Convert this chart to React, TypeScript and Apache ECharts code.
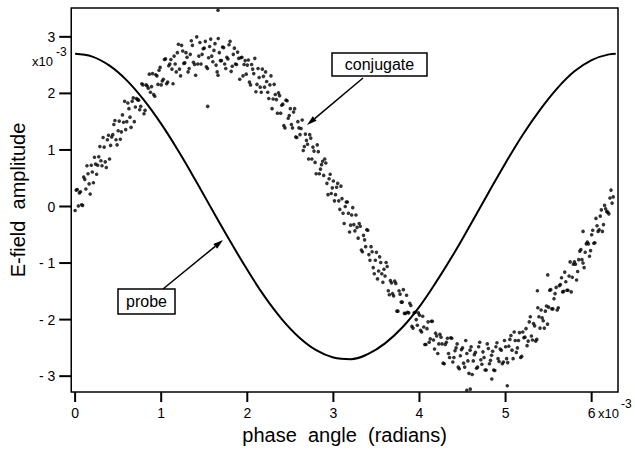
import React, { useEffect, useRef } from "react";
import * as echarts from "echarts";

const xTicks = [0, 1, 2, 3, 4, 5, 6];
const yTicks = [-3, -2, -1, 0, 1, 2, 3];
const X_MIN = -0.045;
const X_MAX = 6.306;
const Y_MIN = -3.28;
const Y_MAX = 3.51;

const probeX = [0, 0.2, 0.4, 0.6, 0.8, 1.0, 1.2, 1.4, 1.6, 1.8, 2.0, 2.2, 2.4, 2.6, 2.8, 3.0, 3.2, 3.4, 3.6, 3.8, 4.0, 4.2, 4.4, 4.6, 4.8, 5.0, 5.2, 5.4, 5.6, 5.8, 6.0, 6.2, 6.28];
const probeY = [2.7, 2.65, 2.49, 2.23, 1.88, 1.46, 0.98, 0.46, -0.08, -0.61, -1.12, -1.59, -1.99, -2.31, -2.54, -2.67, -2.7, -2.61, -2.42, -2.14, -1.77, -1.32, -0.83, -0.3, 0.24, 0.77, 1.27, 1.71, 2.09, 2.39, 2.59, 2.69, 2.7];

const conjugateA: [number, number][] = [
  [0,-0.07],[0.025,0.30],[0.05,0.24],[0.075,0.03],[0.1,0.52],[0.125,0.31],[0.15,0.58],[0.175,0.22],[0.2,0.61],[0.225,0.87],
  [0.25,0.57],[0.275,0.88],[0.3,0.81],[0.325,1.22],[0.35,0.79],[0.375,1.18],[0.4,0.84],[0.425,1.23],[0.45,1.45],[0.475,1.18],
  [0.5,1.34],[0.525,1.19],[0.55,1.62],[0.575,1.86],[0.6,1.50],[0.625,1.73],[0.65,1.40],[0.675,1.92],[0.7,1.76],[0.725,1.89],
  [0.75,1.71],[0.775,2.17],[0.8,1.64],[0.825,2.15],[0.85,2.09],[0.875,2.02],[0.9,2.35],[0.925,1.95],[0.95,2.31],[0.975,2.41],
  [1.0,2.15],[1.025,2.25],[1.05,2.61],[1.075,2.20],[1.1,2.52],[1.125,2.43],[1.15,2.66],[1.175,2.38],[1.2,2.87],[1.225,2.31],
  [1.25,2.75],[1.275,2.54],[1.3,2.64],[1.325,2.44],[1.35,2.93],[1.375,2.55],[1.4,2.32],[1.425,2.52],[1.45,2.90],[1.475,2.69],
  [1.5,2.80],[1.525,2.47],[1.55,2.63],[1.575,2.96],[1.6,2.56],[1.625,2.88],[1.65,2.38],[1.675,2.72],[1.7,2.58],[1.725,2.81],
  [1.75,2.44],[1.775,2.61],[1.8,2.92],[1.825,2.48],[1.85,2.80],[1.875,2.51],[1.9,2.62],[1.925,2.63],[1.95,2.31],[1.975,2.58],
  [2.0,2.50],[2.025,2.20],[2.05,2.51],[2.075,2.35],[2.1,2.03],[2.125,2.44],[2.15,2.11],[2.175,2.43],[2.2,2.11],[2.225,2.21],
  [2.25,1.91],[2.275,2.31],[2.3,1.90],[2.325,1.98],[2.35,1.65],[2.375,1.96],[2.4,1.79],[2.425,1.43],[2.45,1.88],[2.475,1.56],
  [2.5,1.73],[2.525,1.39],[2.55,1.73],[2.575,1.22],[2.6,1.39],[2.625,1.38],[2.65,0.99],[2.675,1.28],[2.7,1.10],[2.725,1.27],
  [2.75,0.84],[2.775,0.98],[2.8,0.58],[2.825,0.97],[2.85,0.66],[2.875,0.80],[2.9,0.84],[2.925,0.41],[2.95,0.49],[2.975,0.23],
  [3.0,0.45],[3.025,0.21],[3.05,0.41],[3.075,-0.05],[3.1,0.14],[3.125,-0.30],[3.15,0.08],[3.175,-0.12],[3.2,-0.33],[3.225,-0.02],
  [3.25,-0.43],[3.275,-0.37],[3.3,-0.30],[3.325,-0.77],[3.35,-0.51],[3.375,-0.71],[3.4,-0.42],[3.425,-0.95],[3.45,-0.80],[3.475,-1.19],
  [3.5,-0.81],[3.525,-1.14],[3.55,-0.99],[3.575,-1.34],[3.6,-1.23],[3.625,-1.06],[3.65,-1.56],[3.675,-1.35],[3.7,-1.58],[3.725,-1.36],
  [3.75,-1.85],[3.775,-1.55],[3.8,-1.69],[3.825,-1.89],[3.85,-1.57],[3.875,-1.88],[3.9,-1.75],[3.925,-2.15],[3.95,-1.87],[3.975,-2.10],
  [4.0,-1.92],[4.025,-2.22],[4.05,-2.13],[4.075,-2.44],[4.1,-2.04],[4.125,-2.34],[4.15,-2.03],[4.175,-2.52],[4.2,-2.29],[4.225,-2.43],
  [4.25,-2.31],[4.275,-2.77],[4.3,-2.44],[4.325,-2.33],[4.35,-2.67],[4.375,-2.33],[4.4,-2.67],[4.425,-2.50],[4.45,-2.84],[4.475,-2.64],
  [4.5,-2.50],[4.525,-2.84],[4.55,-2.60],[4.575,-2.95],[4.6,-2.48],[4.625,-2.73],[4.65,-2.58],[4.675,-2.84],[4.7,-2.40],[4.725,-2.79],
  [4.75,-2.67],[4.775,-2.89],[4.8,-2.51],[4.825,-2.72],[4.85,-2.56],[4.875,-2.90],[4.9,-2.41],[4.925,-2.74],[4.95,-2.54],[4.975,-2.75],
  [5.0,-2.48],[5.025,-2.76],[5.05,-2.35],[5.075,-2.54],[5.1,-2.22],[5.125,-2.58],[5.15,-2.37],[5.175,-2.67],[5.2,-2.22],[5.225,-2.31],
  [5.25,-2.46],[5.275,-2.04],[5.3,-2.29],[5.325,-2.07],[5.35,-2.38],[5.375,-1.79],[5.4,-2.15],[5.425,-1.97],[5.45,-2.15],[5.475,-1.76],
  [5.5,-1.78],[5.525,-1.47],[5.55,-1.81],[5.575,-1.54],[5.6,-1.83],[5.625,-1.40],[5.65,-1.26],[5.675,-1.50],[5.7,-1.33],[5.725,-1.48],
  [5.75,-0.98],[5.775,-1.25],[5.8,-0.98],[5.825,-1.30],[5.85,-0.94],[5.875,-0.76],[5.9,-1.00],[5.925,-0.81],[5.95,-0.63],[5.975,-0.88],
  [6.0,-0.50],[6.025,-0.65],[6.05,-0.21],[6.075,-0.44],[6.1,-0.17],[6.125,-0.44],[6.15,0.02],[6.175,-0.09],[6.2,-0.13],[6.225,0.29],[6.25,0.17]
];

const conjugateB: [number, number][] = [
  [0.0125,0.29],[0.0375,0.01],[0.0625,0.26],[0.0875,0.02],[0.1125,0.48],[0.1375,0.72],[0.1625,0.40],[0.1875,0.73],[0.2125,0.42],[0.2375,0.75],
  [0.2625,0.73],[0.2875,1.06],[0.3125,0.72],[0.3375,1.05],[0.3625,0.69],[0.3875,1.26],[0.4125,1.08],[0.4375,1.27],[0.4625,1.52],[0.4875,1.09],
  [0.5125,1.51],[0.5375,1.32],[0.5625,1.49],[0.5875,1.36],[0.6125,1.83],[0.6375,1.58],[0.6625,1.86],[0.6875,1.50],[0.7125,1.91],[0.7375,1.88],
  [0.7625,1.77],[0.7875,2.15],[0.8125,1.70],[0.8375,2.13],[0.8625,2.34],[0.8875,2.12],[0.9125,1.98],[0.9375,2.33],[0.9625,2.16],[0.9875,2.46],
  [1.0125,2.22],[1.0375,2.60],[1.0625,2.17],[1.0875,2.49],[1.1125,2.60],[1.1375,2.17],[1.1625,2.52],[1.1875,2.72],[1.2125,2.43],[1.2375,2.85],
  [1.2625,2.53],[1.2875,2.72],[1.3125,2.38],[1.3375,2.69],[1.3625,2.85],[1.3875,2.51],[1.4125,3.00],[1.4375,2.66],[1.4625,2.52],[1.4875,2.79],
  [1.5125,2.92],[1.5375,2.44],[1.5625,2.83],[1.5875,2.66],[1.6125,2.76],[1.6375,2.50],[1.6625,2.97],[1.6875,2.58],[1.7125,2.82],[1.7375,2.52],
  [1.7625,2.64],[1.7875,2.86],[1.8125,2.39],[1.8375,2.69],[1.8625,2.52],[1.8875,2.73],[1.9125,2.25],[1.9375,2.64],[1.9625,2.51],[1.9875,2.34],
  [2.0125,2.59],[2.0375,2.15],[2.0625,2.43],[2.0875,2.62],[2.1125,2.16],[2.1375,2.28],[2.1625,2.02],[2.1875,2.30],[2.2125,2.38],[2.2375,2.02],
  [2.2625,2.15],[2.2875,1.73],[2.3125,2.16],[2.3375,1.89],[2.3625,2.01],[2.3875,1.65],[2.4125,1.81],[2.4375,1.39],[2.4625,1.87],[2.4875,1.61],
  [2.5125,1.45],[2.5375,1.67],[2.5625,1.23],[2.5875,1.50],[2.6125,1.27],[2.6375,1.53],[2.6625,1.06],[2.6875,1.17],[2.7125,0.84],[2.7375,1.21],
  [2.7625,1.05],[2.7875,0.78],[2.8125,1.09],[2.8375,0.58],[2.8625,0.74],[2.8875,0.55],[2.9125,0.77],[2.9375,0.21],[2.9625,0.57],[2.9875,0.33],
  [3.0125,0.10],[3.0375,0.34],[3.0625,0.10],[3.0875,0.36],[3.1125,-0.12],[3.1375,0.00],[3.1625,0.08],[3.1875,-0.45],[3.2125,-0.15],[3.2375,-0.32],
  [3.2625,-0.15],[3.2875,-0.56],[3.3125,-0.35],[3.3375,-0.80],[3.3625,-0.59],[3.3875,-0.41],[3.4125,-0.85],[3.4375,-0.71],[3.4625,-1.08],[3.4875,-0.95],
  [3.5125,-1.28],[3.5375,-0.89],[3.5625,-1.19],[3.5875,-1.11],[3.6125,-0.99],[3.6375,-1.49],[3.6625,-1.31],[3.6875,-1.54],[3.7125,-1.32],[3.7375,-1.85],
  [3.7625,-1.49],[3.7875,-1.69],[3.8125,-1.47],[3.8375,-1.89],[3.8625,-1.87],[3.8875,-1.71],[3.9125,-2.12],[3.9375,-1.88],[3.9625,-2.00],[3.9875,-1.88],
  [4.0125,-2.19],[4.0375,-1.94],[4.0625,-2.44],[4.0875,-2.16],[4.1125,-2.40],[4.1375,-2.03],[4.1625,-2.36],[4.1875,-2.24],[4.2125,-2.60],[4.2375,-2.26],
  [4.2625,-2.43],[4.2875,-2.78],[4.3125,-2.40],[4.3375,-2.60],[4.3625,-2.32],[4.3875,-2.75],[4.4125,-2.55],[4.4375,-2.43],[4.4625,-2.87],[4.4875,-2.53],
  [4.5125,-2.77],[4.5375,-2.37],[4.5625,-2.73],[4.5875,-2.54],[4.6125,-2.97],[4.6375,-2.62],[4.6625,-2.86],[4.6875,-2.48],[4.7125,-2.71],[4.7375,-2.57],
  [4.7625,-2.89],[4.7875,-2.43],[4.8125,-2.78],[4.8375,-2.63],[4.8625,-2.89],[4.8875,-2.48],[4.9125,-2.69],[4.9375,-2.52],[4.9625,-2.78],[4.9875,-2.37],
  [5.0125,-2.69],[5.0375,-2.47],[5.0625,-2.28],[5.0875,-2.69],[5.1125,-2.37],[5.1375,-2.50],[5.1625,-2.23],[5.1875,-2.65],[5.2125,-2.32],[5.2375,-2.16],
  [5.2625,-2.38],[5.2875,-1.95],[5.3125,-2.36],[5.3375,-2.11],[5.3625,-2.35],[5.3875,-1.95],[5.4125,-1.83],[5.4375,-2.02],[5.4625,-1.85],[5.4875,-2.08],
  [5.5125,-1.48],[5.5375,-1.81],[5.5625,-1.63],[5.5875,-1.43],[5.6125,-1.79],[5.6375,-1.38],[5.6625,-1.51],[5.6875,-1.16],[5.7125,-1.48],[5.7375,-1.23],
  [5.7625,-1.51],[5.7875,-1.02],[5.8125,-1.02],[5.8375,-1.15],[5.8625,-0.79],[5.8875,-0.94],[5.9125,-1.08],[5.9375,-0.66],[5.9625,-0.66],[5.9875,-0.78],
  [6.0125,-0.42],[6.0375,-0.64],[6.0625,-0.34],[6.0875,-0.41],[6.1125,-0.06],[6.1375,-0.32],[6.1625,-0.04],[6.1875,-0.10],[6.2125,0.15],[6.2375,0.06]
];

const conjugateOutliers: [number, number][] = [
  [1.66,3.47],[1.54,1.77],[1.66,2.32],[5.49,-1.21],[5.37,-1.49],[4.59,-3.23],[5.02,-3.17],[4.84,-3.05],[5.9,-0.44],[4.55,-3.25]
];

const FONT = "'Liberation Sans', Arial, Helvetica, sans-serif";

function arrow(x1: number, y1: number, x2: number, y2: number) {
  const dx = x2 - x1, dy = y2 - y1;
  const len = Math.sqrt(dx * dx + dy * dy);
  const ux = dx / len, uy = dy / len;
  const bx = x2 - 10 * ux, by = y2 - 10 * uy;
  const px = -uy, py = ux;
  return [
    { type: "line", shape: { x1, y1, x2: bx, y2: by }, style: { stroke: "#000", lineWidth: 1.5 } },
    {
      type: "polygon",
      shape: { points: [[x2, y2], [bx + 3 * px, by + 3 * py], [bx - 3 * px, by - 3 * py]] },
      style: { fill: "#000" },
    },
  ];
}

function boxLabel(x: number, y: number, w: number, h: number, text: string) {
  return [
    { type: "rect", shape: { x, y, width: w, height: h }, style: { fill: "#fff", stroke: "#000", lineWidth: 1.5 } },
    {
      type: "text",
      x: x + w / 2,
      y: y + h / 2,
      style: { text, fill: "#000", font: `16px ${FONT}`, align: "center", verticalAlign: "middle" },
    },
  ];
}

export default function App() {
  const ref = useRef<HTMLDivElement>(null);
  useEffect(() => {
    if (!ref.current) return;
    const chart = echarts.init(ref.current, null, { renderer: "svg" });
    chart.setOption({
      animation: false,
      backgroundColor: "#fff",
      grid: { left: 70, right: 17, top: 8, bottom: 55, show: true, borderColor: "#000", borderWidth: 1.5, backgroundColor: "transparent" },
      xAxis: {
        type: "value",
        min: X_MIN,
        max: X_MAX,
        axisLine: { show: false, onZero: false },
        splitLine: { show: false },
        axisTick: { show: false },
        axisLabel: { color: "#000", fontSize: 14, fontFamily: FONT, margin: 14, customValues: xTicks },
        name: "phase  angle  (radians)",
        nameLocation: "middle",
        nameGap: 33,
        nameTextStyle: { color: "#000", fontSize: 20, fontFamily: FONT },
      },
      yAxis: {
        type: "value",
        min: Y_MIN,
        max: Y_MAX,
        axisLine: { show: false, onZero: false },
        splitLine: { show: false },
        axisTick: { show: false },
        axisLabel: {
          color: "#000",
          fontSize: 14,
          fontFamily: FONT,
          margin: 16,
          customValues: yTicks,
          formatter: (v: number) => (v < 0 ? "- " + Math.abs(v) : String(v)),
        },
        name: "E-field  amplitude",
        nameLocation: "middle",
        nameGap: 40,
        nameRotate: 90,
        nameTextStyle: { color: "#000", fontSize: 20, fontFamily: FONT },
      },
      series: [
        {
          type: "line",
          data: probeX.map((x, i) => [x, probeY[i]]),
          smooth: 0.4,
          showSymbol: false,
          lineStyle: { color: "#000", width: 2 },
          z: 3,
        },
        {
          type: "scatter",
          data: [...conjugateA, ...conjugateB, ...conjugateOutliers],
          symbol: "circle",
          symbolSize: 3.6,
          itemStyle: { color: "#000" },
          z: 2,
        },
      ],
    });

    const tickLines: any[] = [];
    xTicks.forEach((v) => {
      const p = chart.convertToPixel({ xAxisIndex: 0, yAxisIndex: 0 }, [v, Y_MIN]) as number[];
      tickLines.push({ type: "line", z: 100, shape: { x1: p[0], y1: p[1], x2: p[0], y2: p[1] + 10 }, style: { stroke: "#000", lineWidth: 2 } });
    });
    yTicks.forEach((v) => {
      const p = chart.convertToPixel({ xAxisIndex: 0, yAxisIndex: 0 }, [X_MIN, v]) as number[];
      tickLines.push({ type: "line", z: 100, shape: { x1: p[0] - 12, y1: p[1], x2: p[0], y2: p[1] }, style: { stroke: "#000", lineWidth: 2 } });
    });

    chart.setOption({
      graphic: [
        ...tickLines,
        { type: "text", x: 32, y: 61, style: { text: "x10", fill: "#000", font: `13px ${FONT}`, verticalAlign: "middle" } },
        { type: "text", x: 56, y: 52, style: { text: "-3", fill: "#000", font: `12px ${FONT}`, verticalAlign: "middle" } },
        { type: "text", x: 598, y: 413, style: { text: "x10", fill: "#000", font: `13px ${FONT}`, verticalAlign: "middle" } },
        { type: "text", x: 621, y: 404, style: { text: "-3", fill: "#000", font: `12px ${FONT}`, verticalAlign: "middle" } },
        ...arrow(363, 78, 307, 125),
        ...boxLabel(332, 53, 95, 23, "conjugate"),
        ...arrow(163, 289, 223, 240),
        ...boxLabel(118, 289, 57, 25, "probe"),
      ],
    });
    return () => chart.dispose();
  }, []);
  return <div ref={ref} style={{ position: "absolute", left: 0, top: 0, width: 635, height: 450 }} />;
}
